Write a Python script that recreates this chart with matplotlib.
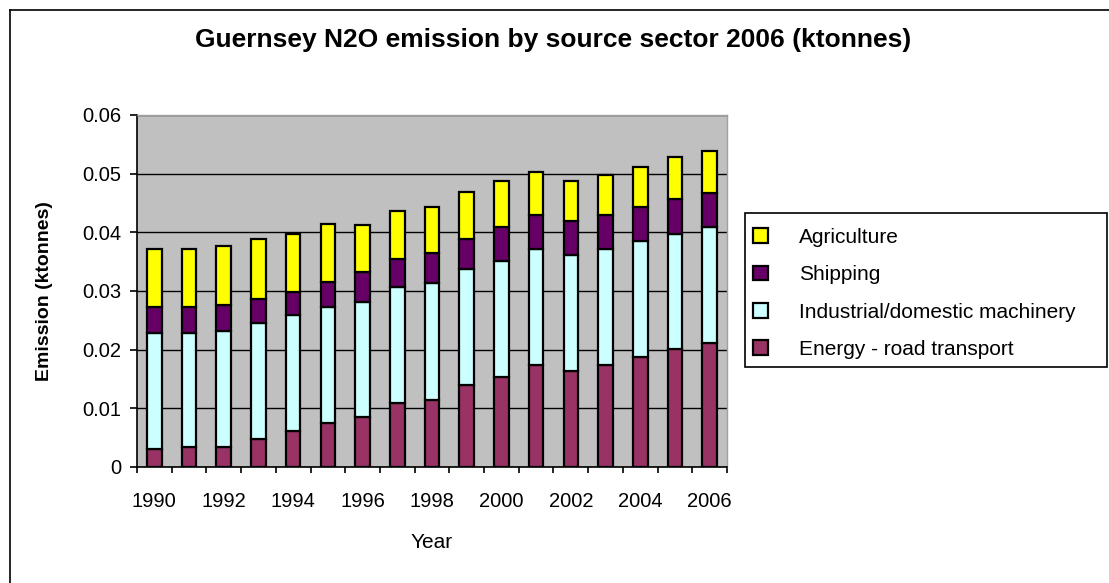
import matplotlib
matplotlib.use("Agg")
import matplotlib.pyplot as plt
import numpy as np
from matplotlib.patches import Rectangle
from matplotlib.lines import Line2D

plt.rcParams['font.family'] = ['Liberation Sans', 'DejaVu Sans']

years = list(range(1990, 2007))
road = [0.0030, 0.0034, 0.0034, 0.0047, 0.0061, 0.0075, 0.0085, 0.0109, 0.0115,
        0.0140, 0.0153, 0.0174, 0.0164, 0.0174, 0.0188, 0.0201, 0.0211]
industrial = [0.0198, 0.0194, 0.0197, 0.0198, 0.0198, 0.0197, 0.0197, 0.0197, 0.0198,
              0.0197, 0.0198, 0.0197, 0.0197, 0.0197, 0.0197, 0.0197, 0.0198]
shipping = [0.0045, 0.0045, 0.0045, 0.0041, 0.0040, 0.0044, 0.0051, 0.0048, 0.0051,
            0.0051, 0.0058, 0.0058, 0.0058, 0.0058, 0.0058, 0.0058, 0.0058]
agriculture = [0.0099, 0.0099, 0.0100, 0.0103, 0.0099, 0.0099, 0.0080, 0.0082, 0.0079,
               0.0080, 0.0079, 0.0073, 0.0069, 0.0069, 0.0068, 0.0072, 0.0072]

series = [
    ("Energy - road transport", road, "#993366"),
    ("Industrial/domestic machinery", industrial, "#CCFFFF"),
    ("Shipping", shipping, "#660066"),
    ("Agriculture", agriculture, "#FFFF00"),
]

W, H = 1109, 583
fig = plt.figure(figsize=(W / 100, H / 100), dpi=100)
ax = fig.add_axes([137 / W, 1 - 467 / H, (727 - 137) / W, (467 - 115) / H])
ax.set_facecolor("#C0C0C0")

x = np.arange(len(years))
bottom = np.zeros(len(years))
handles = {}
for name, vals, col in series:
    v = np.array(vals)
    b = ax.bar(x, v, 0.42, bottom=bottom, color=col, edgecolor="black",
               linewidth=1.6, label=name, zorder=3)
    handles[name] = b
    bottom += v

ax.set_ylim(0, 0.06)
ax.set_xlim(-0.5, len(years) - 0.5)
ax.set_yticks(np.arange(0, 0.061, 0.01))
ax.set_yticklabels(["0", "0.01", "0.02", "0.03", "0.04", "0.05", "0.06"])
ax.yaxis.grid(True, color="black", linewidth=1.0, zorder=0)
ax.set_axisbelow(True)

ax.set_xticks(x)
ax.set_xticklabels([str(y) if (y % 2 == 0) else "" for y in years])
ax.set_xticks(np.arange(-0.5, len(years), 1.0), minor=True)
ax.tick_params(axis="x", which="major", length=0, labelsize=14.5, pad=18)
ax.tick_params(axis="x", which="minor", length=4.5, width=1.2, direction="out")
ax.tick_params(axis="y", length=5, width=1.2, direction="out", labelsize=14.5, pad=6)

for s in ["left", "bottom"]:
    ax.spines[s].set_color("black")
    ax.spines[s].set_linewidth(1.2)
for s in ["top", "right"]:
    ax.spines[s].set_color("#A0A0A0")
    ax.spines[s].set_linewidth(1.0)

ax.set_xlabel("Year", fontsize=15, labelpad=16)
ax.set_ylabel("Emission (ktonnes)", fontsize=14, fontweight="bold", labelpad=21)

fig.text(553 / W, 1 - 40 / H, "Guernsey N2O emission by source sector 2006 (ktonnes)",
         ha="center", va="center", fontsize=19, fontweight="bold")

# legend frame
fig.patches.append(Rectangle((745 / W, 1 - 367 / H), (1107 - 745) / W, (367 - 213) / H,
                             transform=fig.transFigure, fill=False,
                             edgecolor="black", linewidth=1.2))
order = ["Agriculture", "Shipping", "Industrial/domestic machinery", "Energy - road transport"]
leg = fig.legend([handles[n] for n in order], order, loc="upper left",
                 bbox_to_anchor=(753 / W, 1 - 228 / H), bbox_transform=fig.transFigure,
                 fontsize=15, frameon=False,
                 handlelength=0.72, handleheight=0.72, handletextpad=1.5,
                 labelspacing=0.88, borderpad=0, borderaxespad=0)

# chart-area border (top and left visible)
fig.lines.append(Line2D([10 / W, 10 / W], [0, 1 - 10 / H], transform=fig.transFigure,
                        color="black", linewidth=1.2))
fig.lines.append(Line2D([10 / W, 1], [1 - 10 / H, 1 - 10 / H], transform=fig.transFigure,
                        color="black", linewidth=1.2))

fig.savefig("out.png", dpi=100)
